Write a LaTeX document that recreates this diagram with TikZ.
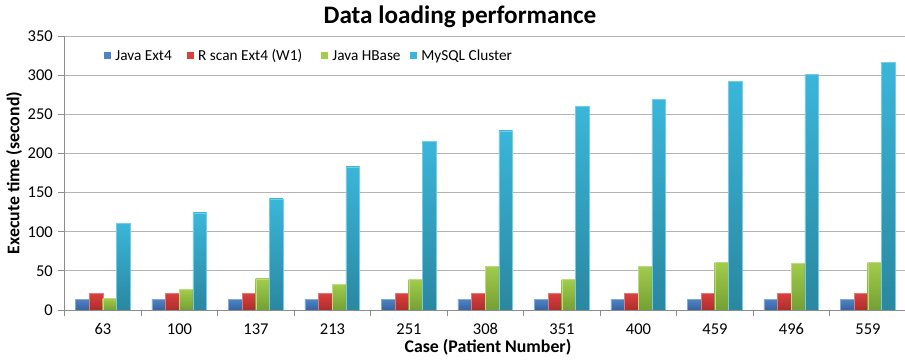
\documentclass[tikz,border=0pt]{standalone}
\usepackage{fontspec}
\setmainfont{Carlito}
\usetikzlibrary{positioning}
\definecolor{javaext}{HTML}{4F84C4}
\definecolor{javaextdk}{HTML}{3762A0}
\definecolor{rscan}{HTML}{D9403E}
\definecolor{rscandk}{HTML}{AC2E2C}
\definecolor{hbase}{HTML}{A2CC4C}
\definecolor{hbasedk}{HTML}{74A034}
\definecolor{mysql}{HTML}{3AB6DA}
\definecolor{mysqldk}{HTML}{2A87A0}
\definecolor{gridgray}{HTML}{B4B4B4}
\definecolor{axisgray}{HTML}{8C8C8C}

\begin{document}
\begin{tikzpicture}[x=1pt, y=-1pt,
  gridline/.style={draw=gridgray, line width=1pt},
  axisline/.style={draw=axisgray, line width=0.9pt},
  ticklabel/.style={font=\fontsize{16.5}{18}\selectfont, inner sep=1pt},
  legendtext/.style={font=\fontsize{15.3}{17}\selectfont, inner sep=0pt},
  axistitle/.style={font=\fontsize{17.8}{20}\selectfont\bfseries},
  legendbox/.style={minimum size=7pt, inner sep=0pt, fill=#1},
  barstyle/.style={top color=#1, bottom color=#1dk, draw=#1!70!white, line width=0.4pt}
  ]
   \useasboundingbox (0,0) rectangle (905,361);
   \node[font=\fontsize{25.2}{28}\selectfont\bfseries] (title) at (460,17) {Data loading performance};

   \foreach \v in {50,100,...,350} {
     \pgfmathsetmacro{\yv}{310-0.7823*\v}
     \draw[gridline] (64,\yv) -- (905,\yv);
   }
   \foreach \v in {0,50,...,350} {
     \pgfmathsetmacro{\yv}{310-0.7823*\v}
     \draw[axisline] (58,\yv) -- (64,\yv);
     \node[ticklabel, anchor=east] (ytick\v) at (54,\yv) {\v};
   }

   \foreach \lab/\g/\c [count=\i from 0] in {63/15/111, 100/26/124, 137/40/142, 213/33/183,
       251/39/216, 308/56/229, 351/39/260, 400/56/269, 459/61/292, 496/60/301, 559/61/317} {
     \pgfmathsetmacro{\xa}{64.7+76.5*\i+10.6}
     \fill[barstyle=javaext] (\xa,310) rectangle ++(13.7,{-0.7823*14});
     \fill[barstyle=rscan] ({\xa+13.7},310) rectangle ++(13.7,{-0.7823*21});
     \fill[barstyle=hbase] ({\xa+27.4},310) rectangle ++(13.7,{-0.7823*\g});
     \fill[barstyle=mysql] ({\xa+41.1},310) rectangle ++(13.7,{-0.7823*\c});
     \node[ticklabel] (xtick\i) at ({64.7+76.5*(\i+0.5)},329) {\lab};
   }

   \draw[axisline] (64,36.2) -- (64,310) -- (905,310);
   \foreach \i in {0,...,11}
     \draw[axisline] ({64.7+76.5*\i},310) -- ++(0,6);

   \node[axistitle, rotate=90] (ytitle) at (14,173) {Execute time (second)};
   \node[axistitle] (xtitle) at (488,347) {Case (Patient Number)};

   \begin{scope}[every node/.style={legendtext}]
    \node[legendbox=javaext] (lgjava) at (107.5,56) {};
    \node[right=4pt of lgjava] (lgjavatxt) {Java Ext4};
    \node[legendbox=rscan] (lgrscan) at (190.3,56) {};
    \node[right=4pt of lgrscan] (lgrscantxt) {R scan Ext4 (W1)};
    \node[legendbox=hbase] (lghbase) at (324.5,56) {};
    \node[right=4pt of lghbase] (lghbasetxt) {Java HBase};
    \node[legendbox=mysql] (lgmysql) at (413.5,56) {};
    \node[right=4pt of lgmysql] (lgmysqltxt) {MySQL Cluster};
   \end{scope}
\end{tikzpicture}
\end{document}
